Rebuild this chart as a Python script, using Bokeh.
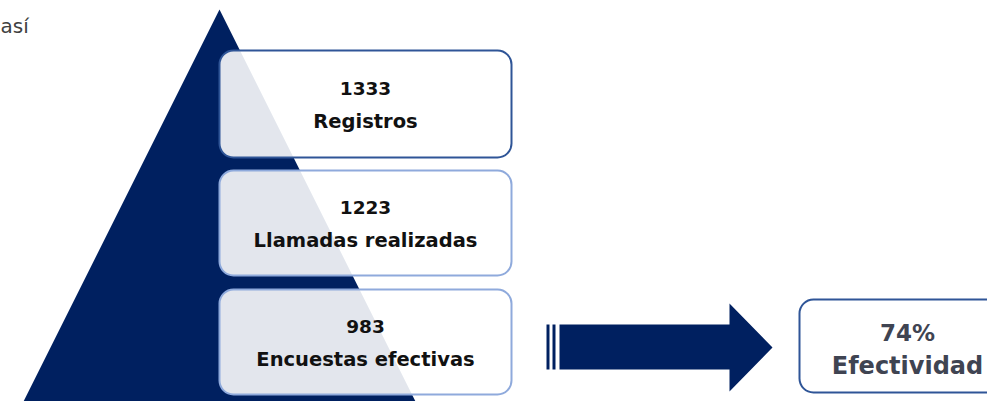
from bokeh.plotting import figure
from bokeh.models import Range1d
from bokeh.core.properties import value
from bokeh.embed import file_html
from bokeh.resources import INLINE

# data
values = ["1333", "1223", "983"]
labels = ["Registros", "Llamadas realizadas", "Encuestas efectivas"]
result_value = "74%"
result_label = "Efectividad"
intro_text = "así"

NAVY = "#002060"
DARK_BORDER = "#2F5597"
LIGHT_BORDER = "#8FAADC"
FONT = "DejaVu Sans"

p = figure(width=987, height=401, output_backend="svg", toolbar_location=None,
           x_range=Range1d(0, 987), y_range=Range1d(401, 0),
           min_border=0, outline_line_color=None)
p.axis.visible = False
p.grid.visible = False
p.background_fill_color = "white"
p.border_fill_color = "white"

# pyramid
p.patch(x=[-30, 219, 468], y=[507, 9, 507], fill_color=NAVY, line_color=None)

# boxes
tops = [50, 170, 289]
bottoms = [157, 275, 394]
borders = [DARK_BORDER, LIGHT_BORDER, LIGHT_BORDER]
for i in range(len(values)):
    p.quad(left=219, right=511, top=tops[i], bottom=bottoms[i],
           fill_color="white", fill_alpha=0.89, line_color=borders[i],
           line_width=2, border_radius=14)
    cy = (tops[i] + bottoms[i]) / 2
    p.text(x=[365], y=[cy - 16], text=[values[i]], text_align="center",
           text_baseline="middle", text_font=value(FONT), text_font_style="bold",
           text_font_size="18.5px", text_color="#111111")
    p.text(x=[365], y=[cy + 17], text=[labels[i]], text_align="center",
           text_baseline="middle", text_font=value(FONT), text_font_style="bold",
           text_font_size="19.5px", text_color="#111111")

# arrow
p.quad(left=[546, 552], right=[549, 555], top=[324, 324], bottom=[369, 369],
       fill_color=NAVY, line_color=None)
p.patch(x=[559, 729, 729, 772, 729, 729, 559],
        y=[324, 324, 303, 347, 391, 369, 369],
        fill_color=NAVY, line_color=None)

# result box
p.quad(left=799, right=1010, top=299, bottom=392, fill_color="white",
       line_color=DARK_BORDER, line_width=2, border_radius=14)
p.text(x=[907], y=[332], text=[result_value], text_align="center",
       text_baseline="middle", text_font=value(FONT), text_font_style="bold",
       text_font_size="23px", text_color="#3F4452")
p.text(x=[907], y=[365], text=[result_label], text_align="center",
       text_baseline="middle", text_font=value(FONT), text_font_style="bold",
       text_font_size="24px", text_color="#3F4452")

# intro text
p.text(x=[0], y=[25], text=[intro_text], text_align="left",
       text_baseline="middle", text_font=value(FONT),
       text_font_size="20px", text_color="#404040")

open("out.html", "w").write(file_html(p, INLINE))
